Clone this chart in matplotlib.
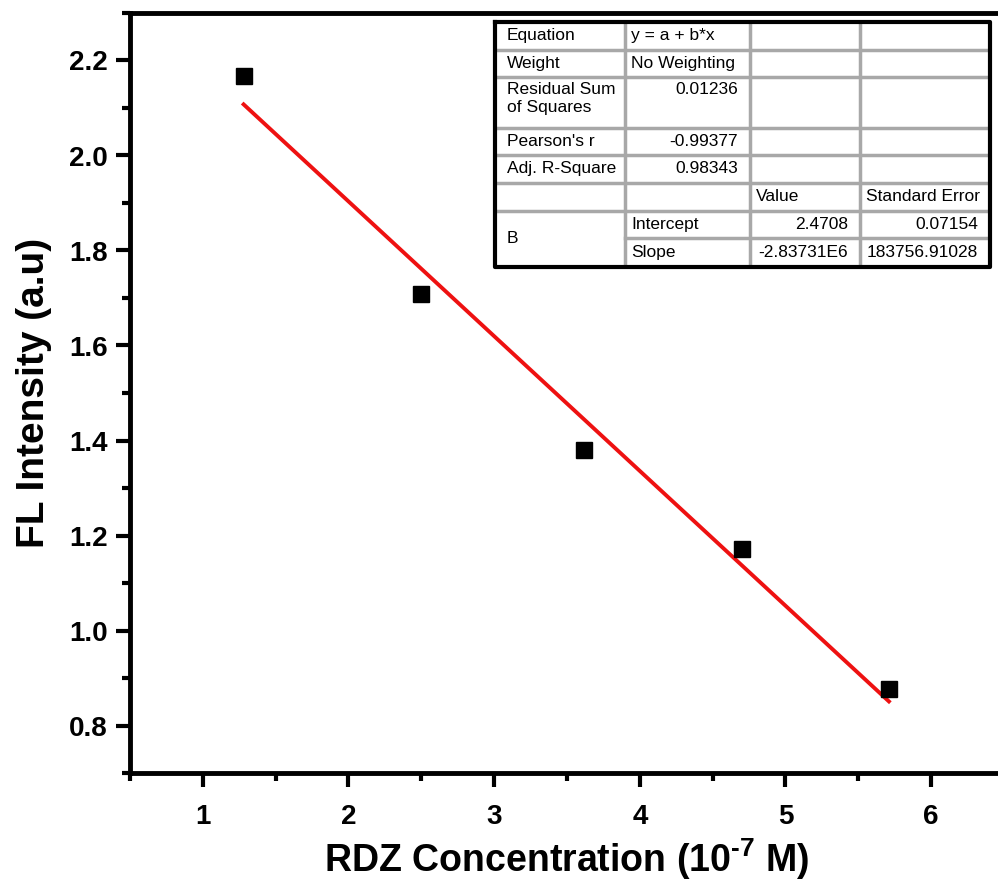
import numpy as np
import matplotlib
matplotlib.use('Agg')
import matplotlib.pyplot as plt

# measured points (concentration in 1e-7 M, FL intensity)
conc = [1.28, 2.50, 3.62, 4.70, 5.71]
intensity = [2.168, 1.708, 1.379, 1.171, 0.876]

# linear fit reported in the table (x in M)
fit_intercept = 2.4708
fit_slope = -2.83731e6

# fit result table
table_rows = [
    ['Equation', 'y = a + b*x', '', ''],
    ['Weight', 'No Weighting', '', ''],
    ['Residual Sum\nof Squares', '0.01236', '', ''],
    ["Pearson's r", '-0.99377', '', ''],
    ['Adj. R-Square', '0.98343', '', ''],
    ['', '', 'Value', 'Standard Error'],
    ['B', 'Intercept', '2.4708', '0.07154'],
    ['', 'Slope', '-2.83731E6', '183756.91028'],
]

plt.rcParams['font.family'] = ['Liberation Sans', 'DejaVu Sans']
plt.rcParams['mathtext.fontset'] = 'custom'
plt.rcParams['mathtext.rm'] = 'Liberation Sans:bold'
plt.rcParams['mathtext.bf'] = 'Liberation Sans:bold'

fig = plt.figure(figsize=(9.98, 8.88), dpi=100)
W, H = 998, 888
ax = fig.add_axes([130 / W, 1 - 773 / H, (1004 - 130) / W, (773 - 13) / H])

ax.plot(conc, intensity, 's', color='black', markersize=11.5, zorder=3)
xfit = np.array([conc[0], conc[-1]])
ax.plot(xfit, fit_intercept + fit_slope * xfit * 1e-7, color='#ee1111', lw=2.8, zorder=2)

ax.set_xlim(0.5, 6.5)
ax.set_ylim(0.7, 2.3)
ax.set_xticks([1, 2, 3, 4, 5, 6])
ax.set_xticks(np.arange(0.5, 6.6, 1.0), minor=True)
ax.set_yticks([0.8, 1.0, 1.2, 1.4, 1.6, 1.8, 2.0, 2.2])
ax.set_yticks(np.arange(0.7, 2.31, 0.2), minor=True)
ax.set_yticklabels(['0.8', '1.0', '1.2', '1.4', '1.6', '1.8', '2.0', '2.2'])

for s in ax.spines.values():
    s.set_linewidth(3.5)
ax.tick_params(which='major', length=10, width=3, labelsize=20, pad=6)
ax.tick_params(axis='x', which='major', pad=12)
ax.tick_params(which='minor', length=6, width=3)
for lab in ax.get_xticklabels() + ax.get_yticklabels():
    lab.set_fontweight('bold')

ax.set_xlabel(r'RDZ Concentration (10$^{\text{-7}}$ M)', fontsize=27, fontweight='bold', labelpad=5)
ax.set_ylabel('FL Intensity (a.u)', fontsize=28, fontweight='bold', labelpad=12)

# fit table drawn in pixel coordinates
col_edges = [495, 625, 750, 860, 990]
row_edges = [22, 50, 77, 128, 155, 183, 211, 238, 267]
tab = fig.add_axes([495 / W, 1 - 267 / H, (990 - 495) / W, (267 - 22) / H])
tab.set_xlim(495, 990)
tab.set_ylim(267, 22)
tab.axis('off')
tab.add_patch(plt.Rectangle((495, 22), 495, 245, facecolor='white', edgecolor='none', zorder=0))

grid_c = '#a8a8a8'
for y in row_edges[1:-1]:
    if y == 238:
        tab.plot([625, 990], [y, y], color=grid_c, lw=2.5)
    else:
        tab.plot([495, 990], [y, y], color=grid_c, lw=2.5)
for x in col_edges[1:-1]:
    tab.plot([x, x], [22, 267], color=grid_c, lw=2.5)
tab.plot([495, 990, 990, 495, 495], [22, 22, 267, 267, 22], color='black', lw=3, clip_on=False)

fs = 12.5
for i, row in enumerate(table_rows):
    y0, y1 = row_edges[i], row_edges[i + 1]
    for j, txt in enumerate(row):
        if not txt:
            continue
        x0, x1 = col_edges[j], col_edges[j + 1]
        numeric = txt[0].isdigit() or txt[0] == '-'
        if txt == 'B':
            # merged over the last two rows
            tab.text(x0 + 12, (y0 + row_edges[i + 2]) / 2, txt, fontsize=fs, va='center', ha='left')
            continue
        if i == 2:
            ty, va = y0 + 5, 'top'
        else:
            ty, va = (y0 + y1) / 2, 'center'
        if numeric:
            tab.text(x1 - 12, ty, txt, fontsize=fs, va=va, ha='right', linespacing=1.25)
        else:
            pad = 12 if j == 0 else 6
            tab.text(x0 + pad, ty, txt, fontsize=fs, va=va, ha='left', linespacing=1.25)

fig.savefig('out.png', dpi=100)
